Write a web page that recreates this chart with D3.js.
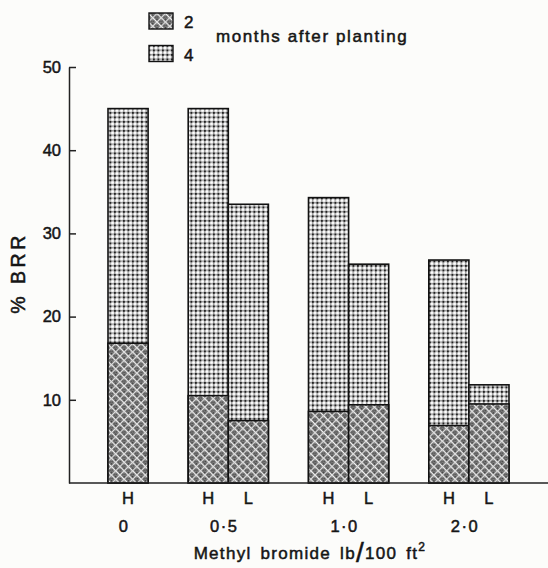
<!DOCTYPE html>
<html>
<head>
<meta charset="utf-8">
<script src="https://cdn.jsdelivr.net/npm/d3@7"></script>
<style>
  body { margin: 0; background: #fcfcfa; }
  svg { display: block; }
  text { font-family: "Liberation Sans", Arial, sans-serif; fill: #151515; stroke: #151515; stroke-width: 0.5px; }
</style>
</head>
<body>
<svg width="548" height="568"></svg>
<script>
// chart data
var doses = ["0", "0·5", "1·0", "2·0"];
var barDose = ["0", "0·5", "0·5", "1·0", "1·0", "2·0", "2·0"];
var barRate = ["H", "H", "L", "H", "L", "H", "L"];
var months2 = [16.8, 10.5, 7.5, 8.6, 9.4, 6.9, 9.5];
var months4 = [45.0, 45.0, 33.5, 34.3, 26.3, 26.8, 11.8];
var yTicks = [10, 20, 30, 40, 50];
var legendLabels = ["2", "4"];

var svg = d3.select("svg"),
    margin = {top: 67, right: 0, bottom: 85, left: 69},
    width = +svg.attr("width") - margin.left - margin.right,
    height = +svg.attr("height") - margin.top - margin.bottom;

// fill patterns
var defs = svg.append("defs");

var hatch = defs.append("pattern")
    .attr("id", "hatch")
    .attr("patternUnits", "userSpaceOnUse")
    .attr("width", 6).attr("height", 6)
    .attr("patternTransform", "rotate(45)");
hatch.append("rect").attr("width", 6).attr("height", 6).attr("fill", "#7a7a7a");
hatch.append("rect").attr("x", 3).attr("y", 1.5).attr("width", 1.2).attr("height", 1.2).attr("fill", "#303030");
hatch.append("rect").attr("x", 1.5).attr("y", 3.5).attr("width", 1.2).attr("height", 1.2).attr("fill", "#303030");
hatch.append("rect").attr("x", 4).attr("y", 4).attr("width", 1.4).attr("height", 1.4).attr("fill", "#3a3a3a");
hatch.append("rect").attr("x", 0).attr("y", 0).attr("width", 6).attr("height", 1.2).attr("fill", "#f2f2f2");
hatch.append("rect").attr("x", 0).attr("y", 0).attr("width", 1.1).attr("height", 6).attr("fill", "#dedede");

var dots = defs.append("pattern")
    .attr("id", "dots")
    .attr("patternUnits", "userSpaceOnUse")
    .attr("width", 4.5).attr("height", 4.5);
dots.append("rect").attr("width", 4.5).attr("height", 4.5).attr("fill", "#d8d8d8");
dots.append("path").attr("d", "M0,0.8H4.5M0.8,0V4.5").attr("stroke", "#7a7a7a").attr("stroke-width", 0.9);
dots.append("rect").attr("x", 0).attr("y", 0).attr("width", 1.8).attr("height", 1.8).attr("fill", "#222");
dots.append("circle").attr("cx", 3.0).attr("cy", 3.0).attr("r", 1.35).attr("fill", "#fff");

// slots: bars of each dose followed by one empty slot
var slots = [];
doses.forEach(function(d, i) {
  barDose.forEach(function(bd, j) { if (bd === d) slots.push(bd + barRate[j]); });
  if (i < doses.length - 1) slots.push("gap" + i);
});

var x = d3.scaleBand().domain(slots).range([39, 440]).padding(0),
    y = d3.scaleLinear().domain([0, 50]).range([height, 0]);

var g = svg.append("g")
    .attr("transform", "translate(" + margin.left + "," + margin.top + ")");

var bars = barDose.map(function(d, i) {
  return {key: d + barRate[i], dose: d, rate: barRate[i], m2: months2[i], m4: months4[i]};
});

// 4 months (full height)
g.selectAll(".bar4")
  .data(bars)
  .enter().append("rect")
    .attr("class", "bar4")
    .attr("x", function(d) { return x(d.key); })
    .attr("y", function(d) { return y(d.m4); })
    .attr("width", x.bandwidth())
    .attr("height", function(d) { return height - y(d.m4); })
    .attr("fill", "url(#dots)")
    .attr("stroke", "#111")
    .attr("stroke-width", 1.6);

// 2 months (lower part)
g.selectAll(".bar2")
  .data(bars)
  .enter().append("rect")
    .attr("class", "bar2")
    .attr("x", function(d) { return x(d.key); })
    .attr("y", function(d) { return y(d.m2); })
    .attr("width", x.bandwidth())
    .attr("height", function(d) { return height - y(d.m2); })
    .attr("fill", "url(#hatch)")
    .attr("stroke", "#111")
    .attr("stroke-width", 1.6);

// y axis
var yAxis = g.append("g")
    .attr("class", "axis axis--y")
    .call(d3.axisLeft(y).tickValues(yTicks).tickSize(-7).tickSizeOuter(0).tickPadding(8));
yAxis.select(".domain").attr("stroke", "#222").attr("stroke-width", 1.5);
yAxis.selectAll(".tick line").attr("stroke", "#222").attr("stroke-width", 1.5);
yAxis.selectAll(".tick text")
    .style("font-size", "16.5px")
    .attr("fill", "#151515");

// baseline
g.append("line")
    .attr("x1", 0).attr("x2", width)
    .attr("y1", height).attr("y2", height)
    .attr("stroke", "#222").attr("stroke-width", 1.6);

// y label
g.append("text")
    .attr("transform", "translate(-44," + (y(25) - 2) + ") rotate(-90)")
    .attr("text-anchor", "middle")
    .style("font-size", "19.5px")
    .style("letter-spacing", "3.5px")
    .text("% BRR");

// H / L labels
g.selectAll(".rate")
  .data(bars)
  .enter().append("text")
    .attr("class", "rate")
    .attr("x", function(d) { return x(d.key) + x.bandwidth() / 2; })
    .attr("y", height + 21)
    .attr("text-anchor", "middle")
    .style("font-size", "16.5px")
    .text(function(d) { return d.rate; });

// dose labels
g.selectAll(".dose")
  .data(doses)
  .enter().append("text")
    .attr("class", "dose")
    .attr("x", function(d) {
      var ks = bars.filter(function(b) { return b.dose === d; });
      return d3.mean(ks, function(b) { return x(b.key) + x.bandwidth() / 2; }) - 4;
    })
    .attr("y", height + 49)
    .attr("text-anchor", "middle")
    .style("font-size", "16.5px")
    .style("letter-spacing", "1.5px")
    .text(function(d) { return d; });

// x title
var xt = g.append("text")
    .attr("x", 241)
    .attr("y", height + 76)
    .attr("text-anchor", "middle")
    .style("font-size", "17px")
    .style("letter-spacing", "1.3px")
    .style("word-spacing", "3px");
xt.append("tspan").text("Methyl  bromide  lb");
xt.append("tspan").style("font-size", "28px").attr("dy", 3).text("/");
xt.append("tspan").attr("dy", -3).text("100 ft");
xt.append("tspan").style("font-size", "12px").attr("dy", -8).text("2");

// legend
var legend = svg.append("g");
legend.selectAll("rect")
  .data(legendLabels)
  .enter().append("rect")
    .attr("x", 149)
    .attr("y", function(d, i) { return 13 + i * 32.5; })
    .attr("width", 24).attr("height", 16)
    .attr("fill", function(d, i) { return i === 0 ? "url(#hatch)" : "url(#dots)"; })
    .attr("stroke", "#111").attr("stroke-width", 1.4);
legend.selectAll(".lab")
  .data(legendLabels)
  .enter().append("text")
    .attr("class", "lab")
    .attr("x", 184)
    .attr("y", function(d, i) { return 28 + i * 33; })
    .style("font-size", "17px")
    .text(function(d) { return d; });
legend.append("text")
    .attr("x", 216)
    .attr("y", 42)
    .style("font-size", "17px")
    .style("letter-spacing", "1.6px")
    .text("months after planting");
</script>
</body>
</html>
